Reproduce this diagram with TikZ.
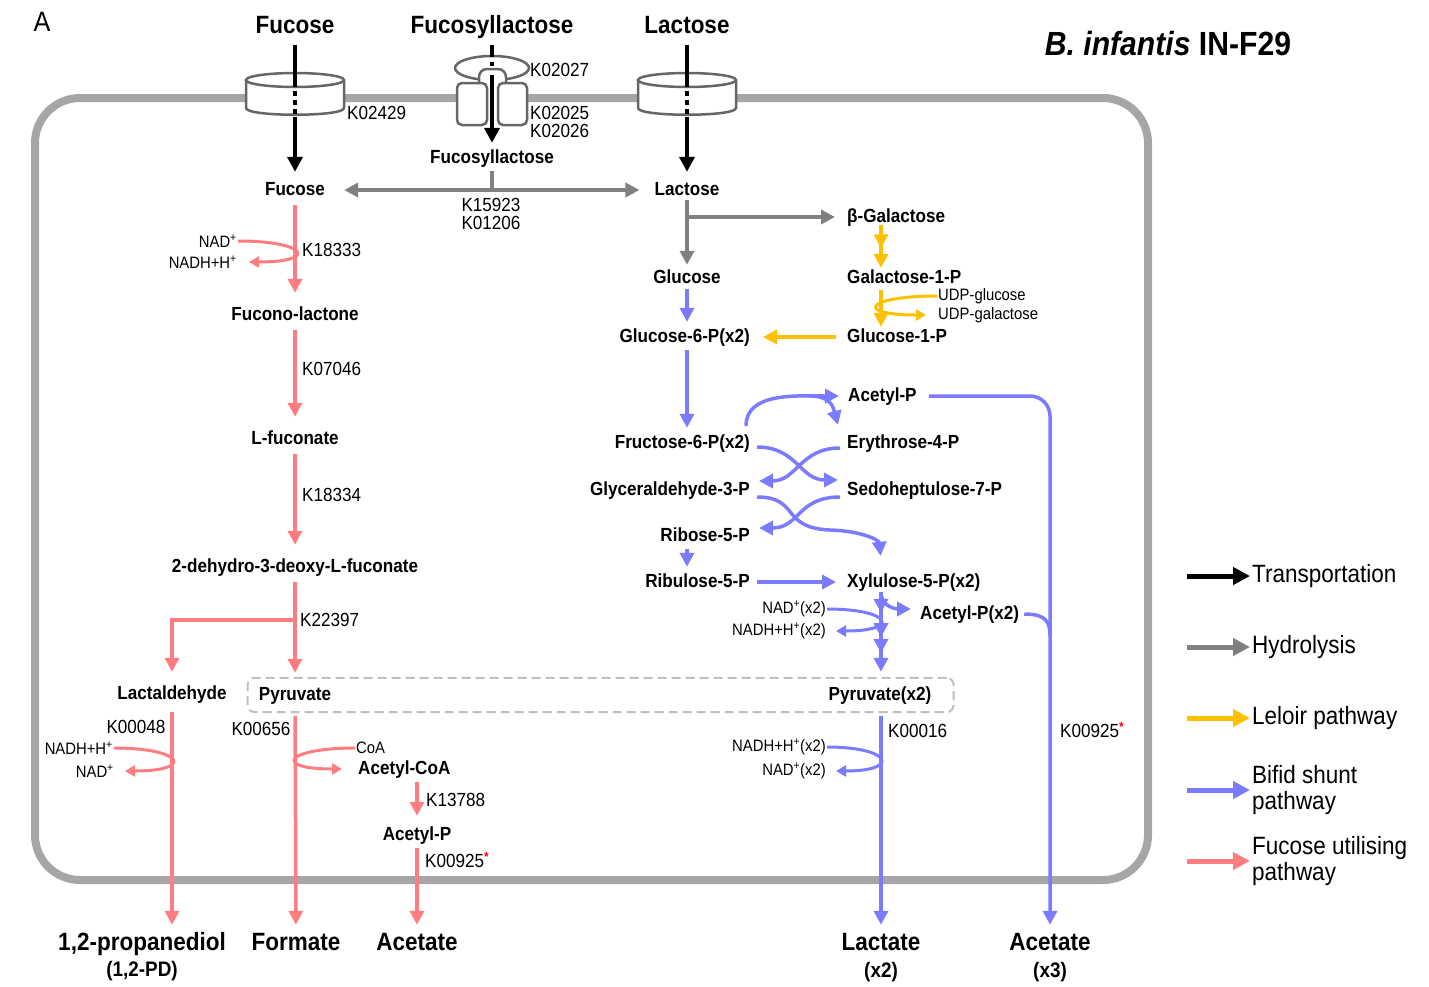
\documentclass[tikz,border=0pt]{standalone}
\usepackage{fontspec}
\setmainfont{Liberation Sans}[FakeStretch=0.9]
\usetikzlibrary{positioning,fit,calc,arrows.meta,decorations.markings}
\pgfdeclarelayer{background}
\pgfsetlayers{background,main}

\definecolor{membgray}{HTML}{A6A6A6}
\definecolor{tpgray}{HTML}{666666}
\definecolor{hydgray}{HTML}{808080}
\definecolor{lelyel}{HTML}{FFC000}
\definecolor{bifblue}{HTML}{7B7BFF}
\definecolor{fucred}{HTML}{FF7C80}
\definecolor{boxgray}{HTML}{BFBFBF}

\tikzset{
  met/.style={font=\fontsize{19}{19}\selectfont\bfseries, text height=14pt,
    text depth=4pt, inner xsep=5pt, inner ysep=2pt},
  ext/.style={font=\fontsize{25}{25}\selectfont\bfseries, text height=18pt,
    text depth=5pt, inner sep=2pt},
  extsub/.style={font=\fontsize{21}{21}\selectfont\bfseries, inner sep=1pt},
  enz/.style={font=\fontsize{19}{18}\selectfont, inner sep=1pt},
  cofac/.style={font=\fontsize{16.5}{17}\selectfont, inner sep=1pt},
  legtxt/.style={font=\fontsize{25}{26}\selectfont, align=left, anchor=west,
    inner sep=2pt},
  rxn/.style={line width=3.5pt, shorten <=2pt, shorten >=4pt,
    >={Triangle[width=14pt,length=14pt]}},
  trans/.style={rxn, line width=4pt, black, ->, shorten <=5pt,
    >={Triangle[width=15pt,length=15pt]}},
  hyd/.style={rxn, line width=4pt, hydgray},
  lel/.style={rxn, lelyel},
  bif/.style={rxn, bifblue},
  fu/.style={rxn, fucred, shorten <=4pt, shorten >=11pt},
  cof/.style={line width=3pt, ->, shorten <=0pt, shorten >=0pt,
    >={Triangle[width=11pt,length=10pt]}},
  steptip/.style={postaction={decorate, decoration={markings,
    mark=at position #1 with {\arrow{Triangle[width=14pt,length=14pt]}}}}},
  tpbody/.style={draw=tpgray, line width=2.5pt, fill=white},
  legarr/.style={line width=5pt, -{Triangle[width=17pt,length=17pt]}}
}

\begin{document}
\begin{tikzpicture}[x=1pt, y=-1pt]
  \useasboundingbox (0,0) rectangle (1429,986);

  % cell membrane
  \begin{pgfonlayer}{background}
    \draw[membgray, line width=8pt, rounded corners=45pt] (35,98) rectangle (1148,880);
  \end{pgfonlayer}

  \node (lbla) at (42,22) [font=\fontsize{28}{28}\selectfont] {A};
  \node (strain) at (1168,44) [font=\fontsize{33.5}{33.5}\selectfont\bfseries] {\textit{B. infantis} IN-F29};

  % outside sugars
  \node (fucttl) at (295,26.5) [ext] {Fucose};
  \node (fslttl) at (492,26.5) [ext] {Fucosyllactose};
  \node (lacttl) at (687,26.5) [ext] {Lactose};

  % transporters
  \foreach \cx in {295,687} {
    \draw[tpbody] (\cx-49,80) -- (\cx-49,108) .. controls (\cx-49,117) and (\cx+49,117) .. (\cx+49,108) -- (\cx+49,80);
    \draw[tpbody] (\cx,80) ellipse [x radius=49, y radius=7];
  }
  \draw[tpbody, fill=none] (492,68) ellipse [x radius=37, y radius=12];
  \draw[tpbody, rounded corners=8pt] (479,84) -- (479,69) -- (506,69) -- (506,84);
  \fill[white] (487,86) rectangle (498,122);
  \draw[tpbody, rounded corners=5pt] (457,83) rectangle (487,125);
  \draw[tpbody, rounded corners=5pt] (498,83) rectangle (527,125);

  \node (k02429) at (346,113) [enz, anchor=west] {K02429};
  \node (k02027) at (529,70) [enz, anchor=west] {K02027};
  \node (k02025) at (529,122) [enz, anchor=west, align=left] {K02025\\K02026};

  % metabolites
  \node (fsl) at (492,158) [met] {Fucosyllactose};
  \node (fuc) at (295,190) [met] {Fucose};
  \node (lac) at (687,190) [met] {Lactose};
  \node (k15923) at (491,214) [enz, align=center] {K15923\\K01206};
  \node (bgal) at (842,217) [met, anchor=west] {β-Galactose};
  \node (glc) at (687,278) [met] {Glucose};
  \node (gal1p) at (842,278) [met, anchor=west] {Galactose-1-P};
  \node (glc6p) at (755,337) [met, anchor=east] {Glucose-6-P(x2)};
  \node (glc1p) at (842,337) [met, anchor=west] {Glucose-1-P};
  \node (acp) at (843,396) [met, anchor=west] {Acetyl-P};
  \node (fru6p) at (755,443) [met, anchor=east] {Fructose-6-P(x2)};
  \node (ery4p) at (842,443) [met, anchor=west] {Erythrose-4-P};
  \node (gap) at (755,490) [met, anchor=east] {Glyceraldehyde-3-P};
  \node (sed7p) at (842,490) [met, anchor=west] {Sedoheptulose-7-P};
  \node (rib5p) at (755,536) [met, anchor=east] {Ribose-5-P};
  \node (ru5p) at (755,582) [met, anchor=east] {Ribulose-5-P};
  \node (xu5p) at (842,582) [met, anchor=west] {Xylulose-5-P(x2)};
  \node (acp2) at (915,614) [met, anchor=west] {Acetyl-P(x2)};
  \node (pyr2) at (880,695) [met] {Pyruvate(x2)};
  \node (fuclac) at (295,315) [met] {Fucono-lactone};
  \node (lfuc) at (295,439) [met] {L-fuconate};
  \node (kdf) at (295,567) [met] {2-dehydro-3-deoxy-L-fuconate};
  \node (pyr) at (295,695) [met] {Pyruvate};
  \node (lald) at (172,694) [met] {Lactaldehyde};
  \node (acoa) at (353,769) [met, anchor=west] {Acetyl-CoA};
  \node (acp3) at (417,835) [met] {Acetyl-P};

  \begin{pgfonlayer}{background}
    \node (pyrbox) [draw=boxgray, line width=2pt, dash pattern=on 9pt off 5pt,
      rounded corners=7pt, inner sep=6pt, fit={(pyr) (pyr2) ([xshift=11pt]pyr2.east)}] {};
  \end{pgfonlayer}

  % end products
  \node (pd) at (142,943.5) [ext] {1,2-propanediol};
  \node (pdab) at (142,971) [extsub] {(1,2-PD)};
  \node (form) at (296,943.5) [ext] {Formate};
  \node (ace1) at (417,943.5) [ext] {Acetate};
  \node (lact) at (881,943.5) [ext] {Lactate};
  \node (lactn) at (881,972) [extsub] {(x2)};
  \node (ace2) at (1050,943.5) [ext] {Acetate};
  \node (ace2n) at (1050,972) [extsub] {(x3)};

  % enzymes
  \node (k18333) at (301,250) [enz, anchor=west] {K18333};
  \node (k07046) at (301,369) [enz, anchor=west] {K07046};
  \node (k18334) at (301,495) [enz, anchor=west] {K18334};
  \node (k22397) at (299,620) [enz, anchor=west] {K22397};
  \node (k00048) at (136,727) [enz] {K00048};
  \node (k00656) at (261,729) [enz] {K00656};
  \node (k13788) at (425,800) [enz, anchor=west] {K13788};
  \node (k00925a) at (424,860) [enz, anchor=west] {K00925\textsuperscript{\textcolor{red}{\bfseries *}}};
  \node (k00016) at (887,731) [enz, anchor=west] {K00016};
  \node (k00925b) at (1059,730) [enz, anchor=west] {K00925\textsuperscript{\textcolor{red}{\bfseries *}}};

  % cofactors
  \node (nad1) at (238,241) [cofac, anchor=east] {NAD\textsuperscript{+}};
  \node (nadh1) at (238,262) [cofac, anchor=east] {NADH+H\textsuperscript{+}};
  \node (udpg) at (937,296) [cofac, anchor=west] {UDP-glucose};
  \node (udpgal) at (937,315) [cofac, anchor=west] {UDP-galactose};
  \node (nad2) at (827,609) [cofac, anchor=east] {NAD\textsuperscript{+}(x2)};
  \node (nadh2) at (827,631) [cofac, anchor=east] {NADH+H\textsuperscript{+}(x2)};
  \node (nadh3) at (114,748) [cofac, anchor=east] {NADH+H\textsuperscript{+}};
  \node (nad3) at (115,771) [cofac, anchor=east] {NAD\textsuperscript{+}};
  \node (coa) at (355,748) [cofac, anchor=west] {CoA};
  \node (nadh4) at (827,747) [cofac, anchor=east] {NADH+H\textsuperscript{+}(x2)};
  \node (nad4) at (827,771) [cofac, anchor=east] {NAD\textsuperscript{+}(x2)};

  \coordinate (rc) at (881,0);

  % transport
  \draw[trans, shorten >=7pt, dash pattern=on 42pt off 4pt on 5pt off 4pt on 5pt off 4pt on 5pt off 3pt on 300pt] (fucttl) -- (fuc);
  \draw[trans, shorten >=4pt, dash pattern=on 12pt off 5pt on 4pt off 9pt on 300pt] (fslttl) -- (fsl);
  \draw[trans, shorten >=7pt, dash pattern=on 42pt off 4pt on 5pt off 4pt on 5pt off 4pt on 5pt off 3pt on 300pt] (lacttl) -- (lac);

  % hydrolysis
  \draw[hyd, <->, shorten <=14pt, shorten >=10pt] (fuc) -- (lac);
  \draw[hyd, shorten >=0pt] (fsl) -- (fsl |- fuc);
  \draw[hyd, ->, shorten <=-1pt, shorten >=2pt] (lac) -- (glc);
  \draw[hyd, ->, shorten <=-2pt, shorten >=7pt] (lac |- bgal) -- (bgal);

  % Leloir
  \draw[lel, ->, steptip=0.52, shorten <=-3pt, shorten >=-1pt] (bgal.south -| rc) -- (gal1p.north -| rc);
  \draw[lel, ->, shorten <=1pt, shorten >=-1pt] (gal1p.south -| rc) -- (glc1p.north -| rc);
  \draw[lel, cof] (udpg.west) .. controls +(-72,0) and +(-72,0) .. ([xshift=-11pt]udpgal.west);
  \draw[lel, ->, shorten <=6pt, shorten >=8pt] (glc1p) -- (glc6p);

  % bifid shunt
  \draw[bif, ->, shorten <=0pt] (glc) -- (glc6p.north -| glc);
  \draw[bif, ->] (glc6p.south -| glc) -- (fru6p.north -| glc);
  \draw[bif, ->] ([shift={(-9,-4)}]fru6p.north east) .. controls +(0,-36) and +(-45,0) .. (acp.west) coordinate[pos=0.75] (f6fork);
  \draw[bif, ->, shorten <=0pt, shorten >=0pt] (f6fork) .. controls +(22,0) and +(-5,-18) .. ([shift={(-4,-7)}]ery4p.north west);
  \draw[bif, ->] ([yshift=-4pt]fru6p.east) .. controls +(42,0) and +(-42,0) .. ([yshift=10pt]sed7p.west);
  \draw[bif, ->] ([yshift=-5pt]ery4p.west) .. controls +(-42,0) and +(42,0) .. ([yshift=9pt]gap.east);
  \draw[bif, ->] ([yshift=-7pt]gap.east) .. controls +(45,0) and +(-50,-2) .. (830,530) .. controls (862,531) and (879,540) .. ([yshift=11pt]xu5p.north -| rc);
  \draw[bif, ->] ([yshift=-7pt]sed7p.west) .. controls +(-45,0) and +(45,0) .. ([yshift=8pt]rib5p.east);
  \draw[bif, ->] (rib5p.south -| glc) -- (ru5p.north -| glc);
  \draw[bif, ->, shorten >=6pt] (ru5p) -- (xu5p);
  \draw[bif, ->, shorten <=-1pt, shorten >=0pt, steptip=0.25, steptip=0.56, steptip=0.76] (xu5p.south -| rc) -- ([yshift=12pt]pyr2.north -| rc);
  \draw[bif, ->, shorten <=-1pt] (xu5p.south -| rc) .. controls +(0,14) and +(-18,0) .. ([yshift=5pt]acp2.west);
  \draw[bif, cof] (nad2.east) .. controls +(65,0) and +(65,0) .. ([xshift=9pt]nadh2.east);
  \draw[bif, ->, rounded corners=20pt, shorten <=7pt, shorten >=5pt] (acp.east) -- (acp.east -| ace2) -- (ace2);
  \draw[bif, shorten <=0pt, shorten >=0pt] (acp2.east) .. controls +(22,0) and +(0,-14) .. ([yshift=-22pt]acp2.east -| ace2);
  \draw[bif, ->, shorten <=10pt, shorten >=5pt] (pyr2.south -| lact) -- (lact);
  \draw[bif, cof] (nadh4.east) .. controls +(65,0) and +(65,0) .. ([xshift=9pt]nad4.east);

  % fucose utilisation
  \draw[fu, ->] (fuc) -- (fuclac);
  \draw[fucred, cof] (nad1.east) .. controls +(70,0) and +(70,0) .. ([xshift=11pt]nadh1.east);
  \draw[fu, ->] (fuclac) -- (lfuc);
  \draw[fu, ->] (lfuc) -- (kdf);
  \draw[fu, ->] (kdf) -- (pyr);
  \draw[fu, ->, shorten <=-1.75pt] (pyr |- k22397) -| (lald);
  \draw[fu, ->, shorten <=7pt, shorten >=5pt] (lald.south) -- (lald.south |- pd.north);
  \draw[fucred, cof] (nadh3.east) .. controls +(70,0) and +(70,0) .. ([xshift=10pt]nad3.east);
  \draw[fu, ->, shorten <=10pt, shorten >=5pt] (pyr) -- (form);
  \draw[fucred, cof] (coa.west) .. controls +(-70,0) and +(-70,0) .. ([xshift=-11pt]acoa.west);
  \draw[fu, ->, shorten <=2pt, shorten >=8pt] (acoa.south -| acp3) -- (acp3);
  \draw[fu, ->, shorten <=2pt, shorten >=5pt] (acp3) -- (ace1);

  % legend
  \coordinate (lgx) at (1187,0);
  \node (lgtr) at (1250,576) [legtxt] {Transportation};
  \node (lghy) at (1250,647) [legtxt] {Hydrolysis};
  \node (lgle) at (1250,718) [legtxt] {Leloir pathway};
  \node (lgbi) at (1250,790) [legtxt] {Bifid shunt\\pathway};
  \node (lgfu) at (1250,861) [legtxt] {Fucose utilising\\pathway};
  \draw[legarr, black] (lgtr.west -| lgx) -- (lgtr.west);
  \draw[legarr, hydgray] (lghy.west -| lgx) -- (lghy.west);
  \draw[legarr, lelyel] (lgle.west -| lgx) -- (lgle.west);
  \draw[legarr, bifblue] (lgbi.west -| lgx) -- (lgbi.west);
  \draw[legarr, fucred] (lgfu.west -| lgx) -- (lgfu.west);
\end{tikzpicture}
\end{document}
